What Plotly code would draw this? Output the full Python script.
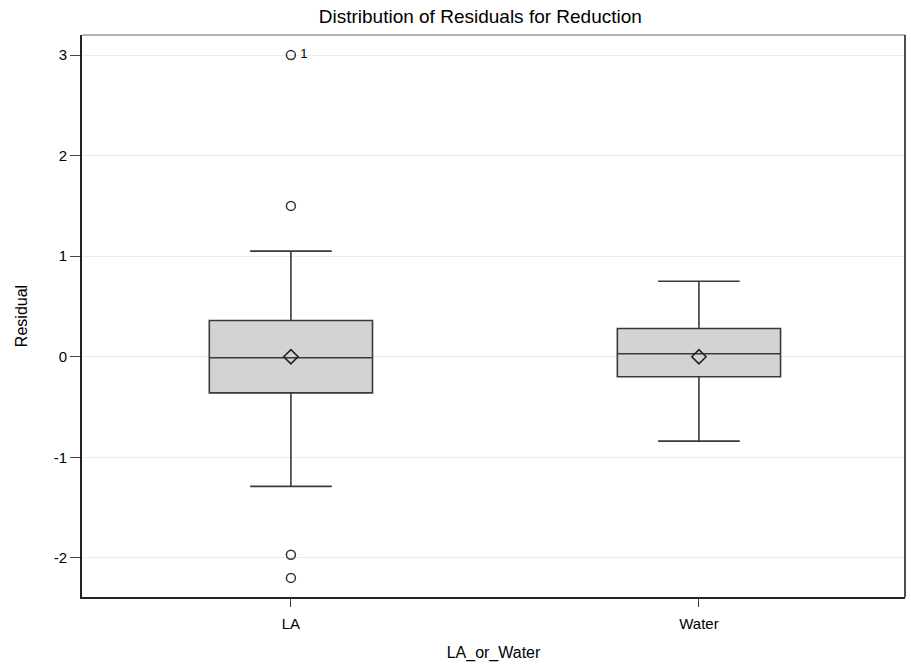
import plotly.graph_objects as go

# Summary statistics of the residuals per group
groups = ["LA", "Water"]
q1 = [-0.36, -0.20]
median = [-0.01, 0.03]
q3 = [0.36, 0.28]
lower_whisker = [-1.29, -0.84]
upper_whisker = [1.05, 0.75]
means = [0.0, 0.0]

# Outlying residuals (only the LA group has any)
outlier_group = ["LA", "LA", "LA", "LA"]
outlier_values = [3.0, 1.5, -1.97, -2.2]
outlier_ids = ["1", "", "", ""]

y_ticks = [-2, -1, 0, 1, 2, 3]

font_family = "Liberation Sans, Arial, sans-serif"
line_col = "#3a3a3a"
text_col = "#000000"

fig = go.Figure()

fig.add_trace(go.Box(
    x=groups,
    q1=q1,
    median=median,
    q3=q3,
    lowerfence=lower_whisker,
    upperfence=upper_whisker,
    width=0.4,
    whiskerwidth=0.5,
    fillcolor="#d3d3d3",
    line=dict(color=line_col, width=1.6),
    boxpoints=False,
    showlegend=False,
    hoverinfo="skip",
))

# Mean markers
fig.add_trace(go.Scatter(
    x=groups,
    y=means,
    mode="markers",
    marker=dict(symbol="diamond-open", size=11, color="#222222",
                line=dict(width=1.6, color="#222222")),
    showlegend=False,
    hoverinfo="skip",
))

# Outliers with their observation labels
fig.add_trace(go.Scatter(
    x=outlier_group,
    y=outlier_values,
    mode="markers+text",
    text=["\u2009" + t if t else t for t in outlier_ids],
    textposition="middle right",
    textfont=dict(family=font_family, size=13, color=text_col),
    marker=dict(symbol="circle-open", size=9, color="#333333",
                line=dict(width=1.5, color="#333333")),
    showlegend=False,
    hoverinfo="skip",
))

# Frame: light top edge, dark right edge
fig.add_shape(type="line", xref="paper", yref="paper", x0=0, x1=1, y0=1, y1=1,
              line=dict(color="#9a9a9a", width=1.5))
fig.add_shape(type="line", xref="paper", yref="paper", x0=1, x1=1, y0=0, y1=1,
              line=dict(color="#222222", width=1.6))

fig.update_layout(
    width=911,
    height=672,
    margin=dict(l=82, r=6, t=35, b=75),
    paper_bgcolor="white",
    plot_bgcolor="white",
    font=dict(family=font_family, size=15, color=text_col),
    title=dict(
        text="Distribution of Residuals for Reduction",
        xref="paper",
        x=0.484,
        xanchor="center",
        y=0.976,
        yanchor="middle",
        font=dict(family=font_family, size=19, color=text_col),
    ),
)

fig.update_xaxes(
    type="category",
    categoryorder="array",
    categoryarray=groups,
    range=[-0.512, 1.505],
    showgrid=False,
    zeroline=False,
    showline=True,
    linecolor="#222222",
    linewidth=1.6,
    ticks="outside",
    ticklen=8,
    tickwidth=1,
    tickcolor="#444444",
    tickfont=dict(size=15),
    ticklabelstandoff=4,
    title=dict(text="LA_or_Water", font=dict(size=16), standoff=16),
)

fig.update_yaxes(
    range=[-2.39, 3.20],
    tickvals=y_ticks,
    ticktext=[str(v) for v in y_ticks],
    showgrid=True,
    gridcolor="#ececec",
    gridwidth=1.2,
    zeroline=False,
    showline=True,
    linecolor="#222222",
    linewidth=1.6,
    ticks="outside",
    ticklen=10,
    tickwidth=1,
    tickcolor="#444444",
    tickfont=dict(size=15),
    title=dict(text="Residual", font=dict(size=16), standoff=22),
)

fig.write_html("out.html")
